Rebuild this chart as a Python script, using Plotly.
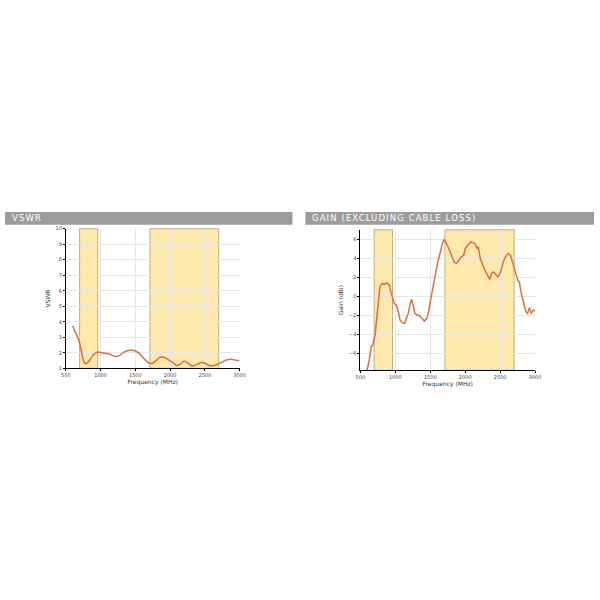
import plotly.graph_objects as go
from plotly.subplots import make_subplots

# VSWR curve
vswr_freq = [600, 625, 650, 675, 700, 725, 750, 775, 800, 825, 850, 875, 900, 925, 950, 975,
             1000, 1050, 1100, 1150, 1200, 1250, 1300, 1350, 1400, 1450, 1500, 1550, 1600, 1650,
             1700, 1750, 1800, 1850, 1900, 1950, 2000, 2050, 2100, 2150, 2200, 2250, 2300, 2350,
             2400, 2450, 2500, 2550, 2600, 2650, 2700, 2750, 2800, 2850, 2900, 2950, 3000]
vswr_val = [3.75, 3.45, 3.2, 2.95, 2.6, 2.05, 1.55, 1.32, 1.32, 1.42, 1.58, 1.75, 1.88, 1.97, 2.03, 2.05,
            2.02, 1.97, 1.95, 1.88, 1.77, 1.78, 1.92, 2.08, 2.15, 2.16, 2.12, 1.98, 1.75, 1.5,
            1.33, 1.33, 1.5, 1.7, 1.73, 1.62, 1.48, 1.33, 1.18, 1.28, 1.45, 1.35, 1.18, 1.18,
            1.28, 1.37, 1.33, 1.2, 1.17, 1.2, 1.3, 1.4, 1.52, 1.57, 1.57, 1.52, 1.5]

# Gain curve (dBi)
gain_freq = [594, 632, 655, 679, 693, 711, 735, 759, 781, 809, 843, 880, 913, 936, 960, 984,
             1016, 1044, 1068, 1100, 1133, 1161, 1185, 1209, 1232, 1255, 1279, 1311, 1349, 1382,
             1414, 1452, 1476, 1509, 1537, 1569, 1603, 1640, 1673, 1701, 1733, 1766, 1804, 1842,
             1874, 1907, 1944, 1977, 2001, 2039, 2076, 2109, 2141, 2169, 2188, 2216, 2250, 2282,
             2320, 2352, 2376, 2404, 2437, 2469, 2507, 2545, 2577, 2615, 2648, 2680, 2718, 2751,
             2774, 2802, 2835, 2868, 2891, 2919, 2943, 2976, 3000]
gain_val = [-7.8, -6.5, -5.28, -5.1, -4.57, -4.05, -2.3, -0.2, 1.0, 1.36, 1.26, 1.43, 1.18, 0.48, -0.04, -0.73,
            -0.91, -1.6, -2.48, -2.72, -2.83, -2.3, -1.78, -0.91, -0.28, -0.91, -1.78, -1.96, -2.03, -2.3,
            -2.59, -2.3, -1.6, -0.2, 1.0, 2.4, 3.45, 4.5, 5.55, 6.0, 5.55, 5.03, 4.32, 3.62,
            3.45, 3.8, 4.15, 4.32, 5.03, 5.37, 5.72, 5.65, 5.55, 5.03, 5.2, 3.98, 3.28, 2.75,
            2.23, 1.78, 2.4, 2.58, 2.3, 2.05, 2.58, 3.62, 4.15, 4.5, 4.32, 3.62, 2.58, 1.7,
            1.53, 0.31, -0.73, -1.6, -1.78, -1.19, -1.78, -1.43, -1.54]

# frequency bands (MHz)
bands = [(698, 960), (1710, 2700)]
titles = ['VSWR', 'GAIN (EXCLUDING CABLE LOSS)']

line_col = '#d9703f'
band_fill = '#fde9ad'
band_edge = '#c2ad78'
header_col = '#9c9c9c'

fig = make_subplots(rows=1, cols=2)

fig.add_trace(go.Scatter(x=vswr_freq, y=vswr_val, mode='lines', line=dict(color=line_col, width=1.5),
                         line_shape='spline'), row=1, col=1)
fig.add_trace(go.Scatter(x=gain_freq, y=gain_val, mode='lines', line=dict(color=line_col, width=1.5)),
              row=1, col=2)

for xr, yr in [('x', 'y'), ('x2', 'y2')]:
    for lo, hi in bands:
        fig.add_shape(type='rect', xref=xr, yref=yr + ' domain', x0=lo, x1=hi, y0=0, y1=1,
                      fillcolor=band_fill, line=dict(color=band_edge, width=1), layer='below')

# grey header bars
for (x0, x1), txt in zip([(0, 0.488), (0.51, 1.0)], titles):
    fig.add_shape(type='rect', xref='paper', yref='paper', x0=x0, x1=x1, y0=0.6267, y1=0.6483,
                  fillcolor=header_col, line_width=0)
    fig.add_annotation(x=x0 + 0.008, y=0.6375, xref='paper', yref='paper', text=txt, showarrow=False,
                       xanchor='left', yanchor='middle', align='left',
                       font=dict(family='DejaVu Sans', size=8.5, color='white'))

axis_style = dict(showline=True, linecolor='black', linewidth=1, gridcolor='#e6e6e6', gridwidth=1,
                  ticks='outside', ticklen=2, tickcolor='black', zeroline=False,
                  tickfont=dict(family='DejaVu Sans', size=5, color='#444'),
                  title_font=dict(family='DejaVu Sans', size=6, color='#333'))

fig.update_xaxes(axis_style, range=[500, 3000], dtick=500, title_text='Frequency (MHz)', title_standoff=2)
fig.update_xaxes(domain=[0.1033, 0.3983], row=1, col=1)
fig.update_xaxes(domain=[0.6033, 0.9], row=1, col=2)
fig.update_yaxes(axis_style, title_standoff=4)
fig.update_yaxes(domain=[0.385, 0.62], range=[1, 10], dtick=1, title_text='VSWR', row=1, col=1)
fig.update_yaxes(domain=[0.3817, 0.6183], range=[-7.75, 7], dtick=2, title_text='Gain (dBi)', row=1, col=2)

fig.update_layout(width=600, height=600, margin=dict(l=0, r=0, t=0, b=0), showlegend=False,
                  plot_bgcolor='white', paper_bgcolor='white')

# no page margin, and wider letter spacing for the header titles
js = ("document.body.style.margin='0';"
      "document.querySelectorAll('.annotation-text').forEach(function(t){t.style.letterSpacing='1.1px';});")
fig.write_html('out.html', config={'displayModeBar': False}, post_script=js)
